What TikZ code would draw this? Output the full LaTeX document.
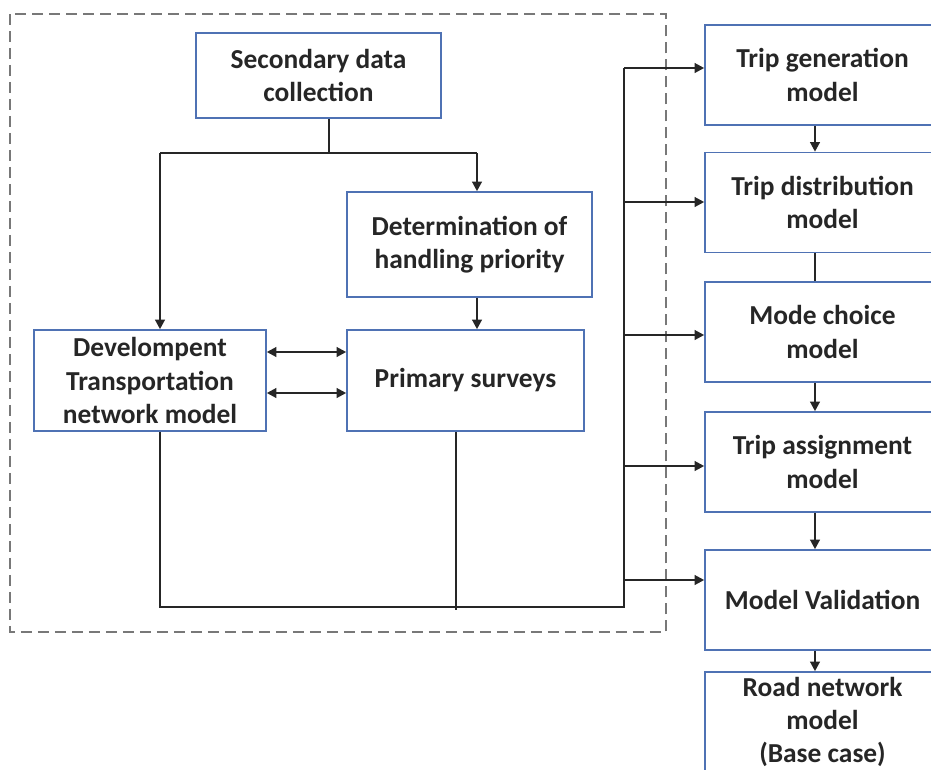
\documentclass[tikz,border=0pt]{standalone}
\usepackage{fontspec}
\setmainfont{Carlito}
\usetikzlibrary{arrows.meta,positioning,calc}
\definecolor{kante}{RGB}{79,114,180}
\definecolor{linie}{RGB}{38,38,38}
\definecolor{rahmen}{RGB}{120,120,120}

\begin{document}
\begin{tikzpicture}[x=0.02cm, y=-0.02cm,
    kasten/.style={draw=kante, line width=0.9pt, fill=white, align=center, inner sep=0pt,
        text=linie, font=\bfseries\fontsize{15.6}{19}\selectfont},
    links/.style={kasten, minimum width=4.7cm, minimum height=2.02cm},
    rechts/.style={kasten, minimum width=4.7cm, minimum height=2cm},
    verb/.style={linie, line width=1.25pt},
    pfeil/.style={verb, -{Triangle[length=5.5pt,width=5.5pt]}},
    doppel/.style={verb, {Triangle[length=5.5pt,width=5.5pt]}-{Triangle[length=5.5pt,width=5.5pt]}}]

    \clip (0,0) rectangle (931,769);

    % dashed frame
    \draw[rahmen, line width=1.6pt, dash pattern=on 0.22cm off 0.12cm] (10,14) rectangle (666,632);

    % left part
    \node[kasten, minimum width=4.9cm, minimum height=1.7cm] (sek) at (318.5,75.5) {Secondary data\\collection};
    \node[kasten, minimum width=4.9cm, minimum height=2.1cm] (best) at (469.5,244.5) {Determination of\\handling priority};
    \node[links, minimum width=4.64cm] (entw) at (150,380.5) {Develompent\\Transportation\\network model};
    \node[links, minimum width=4.74cm] (prim) at (465.5,380.5) {Primary surveys};

    % right column
    \node[rechts] (gen) at (822.5,75) {Trip generation\\model};
    \node[rechts] (dist) at (822.5,202.5) {Trip distribution\\model};
    \node[rechts] (mode) at (822.5,332) {Mode choice\\model};
    \node[rechts] (assign) at (822.5,462) {Trip assignment\\model};
    \node[rechts] (valid) at (822.5,600) {Model Validation};
    \node[rechts] (road) at (822.5,722) {Road network\\model\\(Base case)};

    \coordinate (gabel) at (329,153);
    \coordinate (gl) at (160,153);
    \coordinate (gr) at (477,153);
    \coordinate (sl) at (160,607);
    \coordinate (bus) at (624,607);
    \coordinate (pe) at (456,610);

    % connectors
    \draw[verb] (gabel |- sek.south) -- (gabel);
    \draw[verb] (gl) -- (gr);
    \draw[pfeil] (gl) -- (gl |- entw.north);
    \draw[pfeil] (gr) -- (gr |- best.north);
    \draw[pfeil] (gr |- best.south) -- (gr |- prim.north);

    \draw[doppel] ($(entw.east)+(0,-28.5)$) -- ($(prim.west)+(0,-28.5)$);
    \draw[doppel] ($(entw.east)+(0,12.5)$) -- ($(prim.west)+(0,12.5)$);

    \draw[verb] (sl |- entw.south) -- (sl) -- (bus) -- ($(bus |- gen.west)+(0,-7)$);
    \draw[verb] (pe |- prim.south) -- (pe);

    \foreach \n/\dy in {gen/-7, dist/-0.5, mode/3, assign/4, valid/-20}{
        \draw[pfeil] ($(bus |- \n.west)+(0,\dy)$) -- ($(\n.west)+(0,\dy)$);
    }

    \draw[pfeil] ($(gen.south)+(-7.5,0)$) -- ($(dist.north)+(-7.5,0)$);
    \draw[verb] ($(dist.south)+(-7.5,0)$) -- ($(mode.north)+(-7.5,0)$);
    \draw[pfeil] ($(mode.south)+(-7.5,0)$) -- ($(assign.north)+(-7.5,0)$);
    \draw[pfeil] ($(assign.south)+(-7.5,0)$) -- ($(valid.north)+(-7.5,0)$);
    \draw[pfeil] ($(valid.south)+(-7.5,0)$) -- ($(road.north)+(-7.5,0)$);

\end{tikzpicture}
\end{document}
